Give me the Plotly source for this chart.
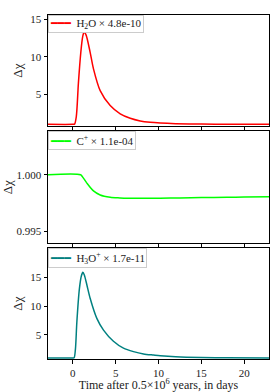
import plotly.graph_objects as go
from plotly.subplots import make_subplots

# H2O series (days, delta chi)
t_h2o = [-3, 0.0, 0.2, 0.4, 0.65, 0.93, 1.15, 1.32, 1.55, 2.02, 2.41, 3.19, 4.36, 5.53, 6.7, 7.86, 9.03, 10.2, 12, 15, 18, 23]
v_h2o = [1, 1, 1.03, 2.0, 6.5, 10.6, 12.7, 13.3, 12.9, 10.6, 8.4, 5.5, 3.5, 2.4, 1.8, 1.45, 1.26, 1.16, 1.08, 1.03, 1.01, 1.0]

# C+ series
t_cp = [-3, 0.9, 1.1, 1.64, 2.41, 3.19, 4.36, 5.5, 6.3, 8.25, 10.2, 12.5, 15, 18, 20, 23]
v_cp = [1.0, 1.0, 0.99985, 0.99926, 0.99857, 0.99821, 0.99801, 0.99795, 0.99792, 0.99792, 0.99793, 0.99795, 0.99798, 0.99801, 0.99803, 0.99805]

# H3O+ series
t_h3o = [-3, 0, 0.15, 0.3, 0.47, 0.77, 1.0, 1.17, 1.35, 1.64, 2.02, 2.8, 3.58, 4.74, 5.91, 7.08, 8.25, 9.42, 10.2, 12, 15, 18, 23]
v_h3o = [1, 1, 1.05, 2.5, 7.3, 13.1, 15.3, 15.9, 15.4, 13.7, 11.4, 7.9, 5.85, 3.9, 2.7, 2.1, 1.7, 1.5, 1.38, 1.2, 1.07, 1.03, 1.0]

names = ["H<sub>2</sub>O × 4.8e-10", "C<sup>+</sup> × 1.1e-04", "H<sub>3</sub>O<sup>+</sup> × 1.7e-11"]
colors = ["#ff0000", "#00ff00", "#008080"]

x_ticks = [0, 5, 10, 15, 20]
y1_ticks = [5, 10, 15]
y2_ticks = [0.995, 1.000]
y3_ticks = [5, 10, 15]

FONT = "Liberation Serif"

fig = make_subplots(rows=3, cols=1, shared_xaxes=False)

series = [(t_h2o, v_h2o), (t_cp, v_cp), (t_h3o, v_h3o)]
for i, ((t, v), nm, c) in enumerate(zip(series, names, colors)):
    fig.add_trace(go.Scatter(x=t, y=v, mode="lines", name=nm, showlegend=False,
                             line=dict(color=c, width=1.5, shape="spline", smoothing=0.8)),
                  row=i + 1, col=1)
    # legend box drawn as an annotation (compact, like matplotlib's)
    yref = "y domain" if i == 0 else f"y{i+1} domain"
    xref = "x domain" if i == 0 else f"x{i+1} domain"
    fig.add_annotation(xref=xref, yref=yref, x=0.0, y=1.0, xanchor="left", yanchor="top",
                       showarrow=False, align="left",
                       text=f"<span style='color:{c};font-family:DejaVu Sans'>━━━</span>  {nm}",
                       font=dict(family=FONT, size=11, color="#222"),
                       bgcolor="white", bordercolor="#cccccc", borderwidth=1, borderpad=1)

domains = [[0.677, 1.0], [0.336, 0.663], [0.0, 0.322]]
yranges = [[0.76, 15.58], [0.99393, 1.00387], [0.82, 20.1]]
yticks = [y1_ticks, y2_ticks, y3_ticks]

axis_common = dict(showline=True, mirror=True, linecolor="black", linewidth=1,
                   ticks="outside", ticklen=3.5, tickwidth=1, tickcolor="black",
                   showgrid=False, zeroline=False, automargin=False,
                   tickfont=dict(family=FONT, size=11, color="#222"))

for i in range(3):
    xa = "xaxis" if i == 0 else f"xaxis{i+1}"
    ya = "yaxis" if i == 0 else f"yaxis{i+1}"
    fig.layout[xa].update(range=[-2.9, 22.9], tickvals=x_ticks,
                          showticklabels=(i == 2), **axis_common)
    fig.layout[ya].update(domain=domains[i], range=yranges[i], tickvals=yticks[i],
                          tickformat=".3f" if i == 1 else "",
                          title=dict(text="Δχ", font=dict(family=FONT, size=13, color="#222"), standoff=4),
                          **axis_common)

fig.layout["xaxis3"].title = dict(text="Time after 0.5×10<sup>6</sup> years, in days",
                                   font=dict(family=FONT, size=12, color="#222"), standoff=4)

fig.update_layout(
    width=280, height=392,
    margin=dict(l=48, r=11, t=15, b=33),
    plot_bgcolor="white", paper_bgcolor="white",
)

fig.write_html("out.html", config={"displayModeBar": False},
               post_script="document.body.style.margin='0px';")
